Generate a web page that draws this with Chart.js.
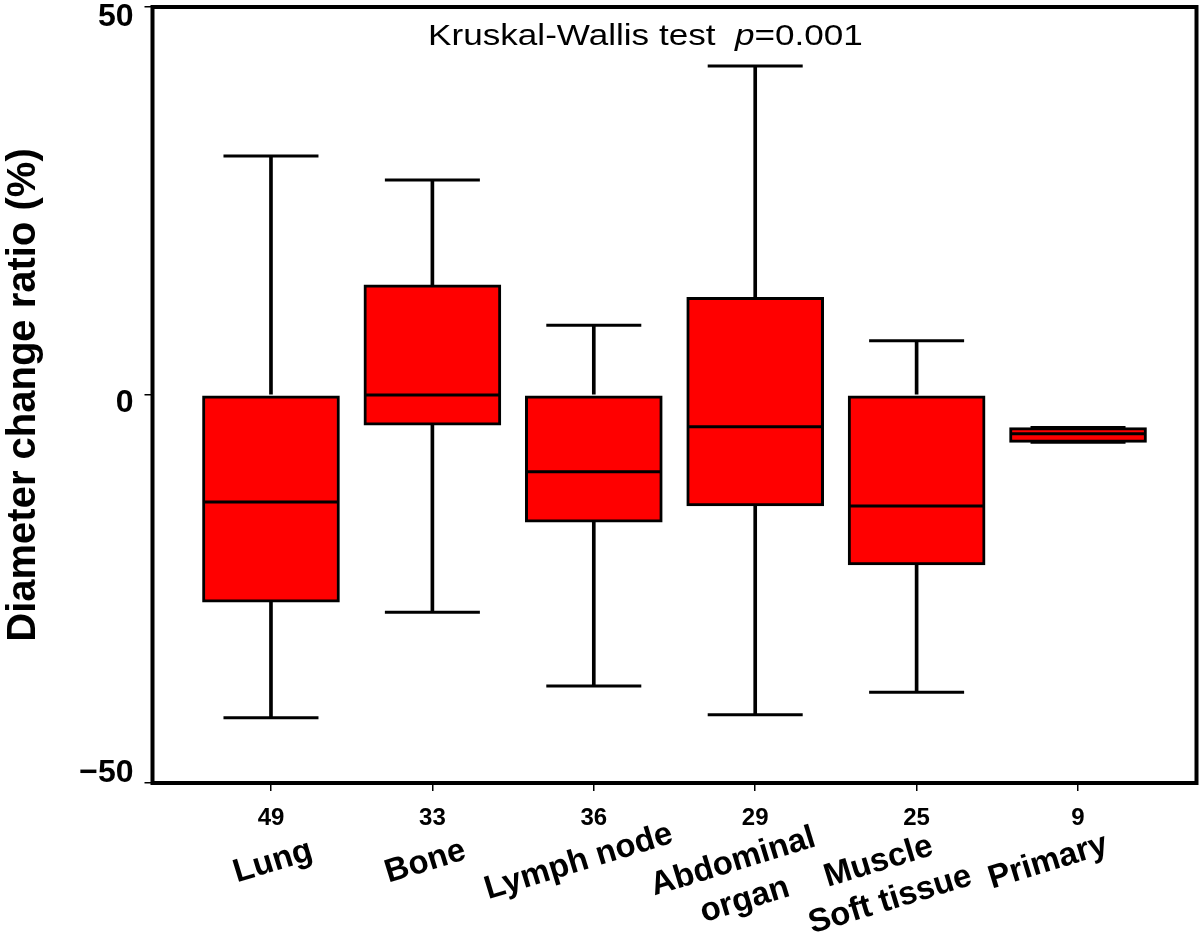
<!DOCTYPE html>
<html><head><meta charset="utf-8">
<script src="https://cdn.jsdelivr.net/npm/chart.js@4.4.0/dist/chart.umd.min.js"></script>
<style>html,body{margin:0;padding:0;background:#fff}#wrap{width:1200px;height:942px;position:relative}</style>
</head><body><div id="wrap"><canvas id="c"></canvas></div>
<script>
const categories = [['Lung'], ['Bone'], ['Lymph node'], ['Abdominal', 'organ'], ['Muscle', 'Soft tissue'], ['Primary']];
const counts = ['49', '33', '36', '29', '25', '9'];
const whiskerMax = [30.8, 27.7, 9.0, 42.4, 7.0, -4.2];
const q3 = [0, 14.2, 0, 12.6, 0, -4.2];
const medians = [-13.8, 0, -9.9, -4.1, -14.3, -5.0];
const q1 = [-26.7, -3.9, -16.4, -14.3, -21.9, -6.1];
const whiskerMin = [-41.6, -28.0, -37.5, -41.2, -38.3, -6.1];
const yTicks = [-50, 0, 50];
const yTickLabels = ['\u221250', '0', '50'];
const yTitle = 'Diameter change ratio (%)';
const testLabel = 'Kruskal-Wallis test  ';
const pLabel = 'p';
const pValue = '=0.001';

// layout only: horizontal nudge (px) of each rotated category name from its tick
const labelNudge = [2, -7, -15, -22, -38, -30];

const FONT = '"Liberation Sans", Arial, sans-serif';
const idx = categories.map((_, i) => i);

const framePlugin = {
  id: 'frame',
  afterDatasetsDraw(chart) {
    const {ctx, chartArea: a} = chart;
    ctx.save();
    ctx.strokeStyle = '#000';
    ctx.lineWidth = 4;
    ctx.strokeRect(a.left, a.top, a.right - a.left, a.bottom - a.top);
    ctx.restore();
  }
};

const textPlugin = {
  id: 'texts',
  afterDraw(chart) {
    const {ctx, chartArea: a} = chart;
    const xs = chart.scales.x, ys = chart.scales.y;
    // y tick labels (kept inside the axis span, like the original)
    ctx.save();
    ctx.fillStyle = '#000';
    ctx.font = 'bold 32px ' + FONT;
    ctx.textAlign = 'right';
    ctx.textBaseline = 'middle';
    yTicks.forEach((v, i) => {
      const py = Math.min(Math.max(ys.getPixelForValue(v) + 8, a.top + 10), a.bottom - 9.5);
      ctx.fillText(yTickLabels[i], a.left - 19, py);
    });
    ctx.restore();
    // annotation
    ctx.save();
    ctx.fillStyle = '#000';
    ctx.textBaseline = 'alphabetic';
    ctx.translate(a.left + 0.264 * (a.right - a.left), a.top + 38);
    ctx.scale(1.17, 1);
    ctx.font = '30px ' + FONT;
    ctx.fillText(testLabel, 0, 0);
    let x = ctx.measureText(testLabel).width;
    ctx.font = 'italic 30px ' + FONT;
    ctx.fillText(pLabel, x, 0);
    x += ctx.measureText(pLabel).width;
    ctx.font = '30px ' + FONT;
    ctx.fillText(pValue, x, 0);
    ctx.restore();
    // category names
    ctx.save();
    ctx.fillStyle = '#000';
    ctx.font = 'bold 33px ' + FONT;
    ctx.textAlign = 'center';
    ctx.textBaseline = 'middle';
    categories.forEach((lines, i) => {
      const cx = xs.getPixelForValue(i) + labelNudge[i];
      ctx.save();
      ctx.translate(cx, a.bottom + 79);
      ctx.rotate(-17 * Math.PI / 180);
      lines.forEach((t, k) => ctx.fillText(t, 0, k * 40));
      ctx.restore();
    });
    ctx.restore();
  }
};

new Chart(document.getElementById('c'), {
  type: 'bar',
  data: {
    datasets: [
      { type: 'bar', data: idx.map(i => ({x: i, y: [q3[i], whiskerMax[i]]})), backgroundColor: '#000', barThickness: 3, grouped: false, order: 5 },
      { type: 'bar', data: idx.map(i => ({x: i, y: [whiskerMin[i], q1[i]]})), backgroundColor: '#000', barThickness: 3, grouped: false, order: 5 },
      { type: 'bar', data: idx.map(i => ({x: i, y: [q1[i], q3[i]]})), backgroundColor: '#ff0000', borderColor: '#000', borderWidth: 3, borderSkipped: false, barThickness: 137, grouped: false, order: 3 },
      { type: 'line', data: idx.map(i => ({x: i, y: whiskerMax[i]})), showLine: false, pointStyle: 'line', pointRadius: 47.5, pointBorderWidth: 3, pointBorderColor: '#000', order: 2 },
      { type: 'line', data: idx.map(i => ({x: i, y: whiskerMin[i]})), showLine: false, pointStyle: 'line', pointRadius: 47.5, pointBorderWidth: 3, pointBorderColor: '#000', order: 2 },
      { type: 'line', data: idx.map(i => ({x: i, y: medians[i]})), showLine: false, pointStyle: 'line', pointRadius: 67, pointBorderWidth: 3, pointBorderColor: '#000', order: 1 }
    ]
  },
  options: {
    responsive: true,
    maintainAspectRatio: false,
    animation: false,
    events: [],
    layout: { autoPadding: false, padding: { top: 7, right: 3.5, left: 0, bottom: 0 } },
    plugins: { legend: { display: false }, tooltip: { enabled: false } },
    scales: {
      x: {
        type: 'linear', min: -0.734, max: 5.734, offset: false,
        afterBuildTicks: s => { s.ticks = idx.map(i => ({value: i})); },
        afterFit: s => { s.height = 159; s.paddingLeft = 0; s.paddingRight = 0; },
        ticks: { callback: (v, i) => counts[i], font: { family: FONT, weight: 'bold', size: 24 }, color: '#000', padding: 13, maxRotation: 0, autoSkip: false },
        grid: { display: true, offset: false, drawOnChartArea: false, drawTicks: true, tickLength: 8, color: '#000', lineWidth: 1.5 },
        border: { display: false }
      },
      y: {
        min: -50, max: 50,
        afterBuildTicks: s => { s.ticks = yTicks.map(v => ({value: v})); },
        afterFit: s => { s.width = 152.5; s.paddingTop = 0; s.paddingBottom = 0; },
        ticks: { display: false },
        grid: { display: true, drawOnChartArea: false, drawTicks: true, tickLength: 8, color: '#000', lineWidth: 1.5 },
        border: { display: false },
        title: { display: true, text: yTitle, font: { family: FONT, weight: 'bold', size: 40 }, color: '#000', padding: 0 }
      }
    }
  },
  plugins: [framePlugin, textPlugin]
});
</script>
</body></html>
